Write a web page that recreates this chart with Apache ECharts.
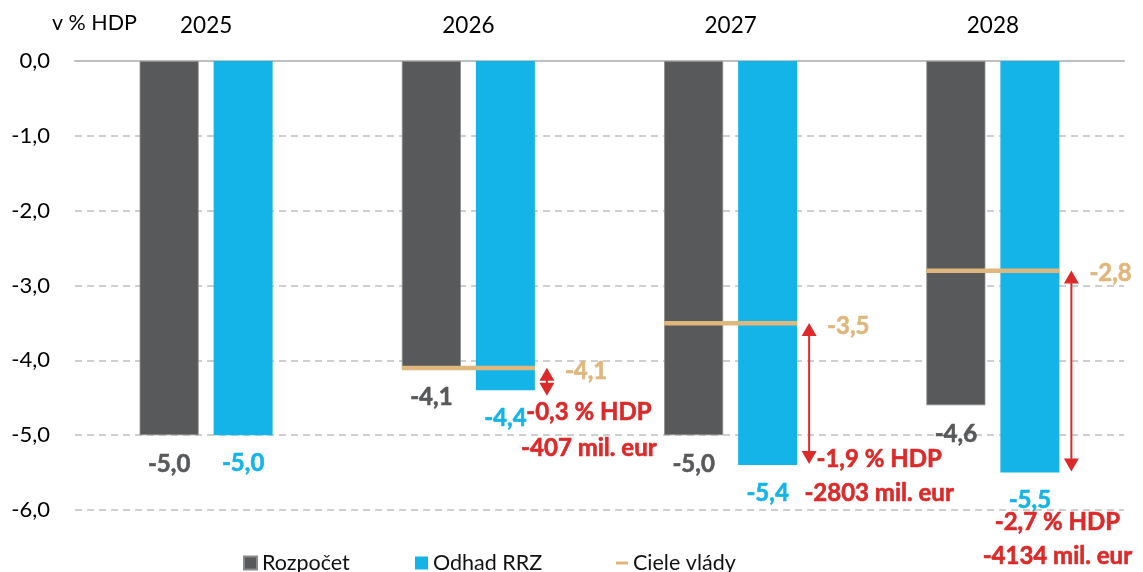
<!DOCTYPE html>
<html><head><meta charset="utf-8">
<script src="https://cdn.jsdelivr.net/npm/echarts@6/dist/echarts.min.js"></script>
<style>html,body{margin:0;padding:0;background:#fff}#c{width:1143px;height:572px}</style>
</head><body><div id="c"></div>
<script>
// ---- data ----
const years = ['2025', '2026', '2027', '2028'];
const rozpocet = [-5.0, -4.1, -5.0, -4.6];
const odhadRRZ = [-5.0, -4.4, -5.4, -5.5];
const cieleVlady = [null, -4.1, -3.5, -2.8];
const gapHDP = [null, -0.3, -1.9, -2.7];
const gapMilEur = [null, -407, -2803, -4134];
const yTicks = [0, -1, -2, -3, -4, -5, -6];

// ---- layout (positions of red annotation texts relative to arrow x / blue bar end) ----
const gapLabelOffsets = [null, {dx: 42, dy1: 22, dy2: 58}, {dx: 70, dy1: -6, dy2: 28}, {dx: -14, dy1: 50, dy2: 84}];

const GRAY = '#58595b', BLUE = '#15b4e8', TAN = '#dfb77c', RED = '#dc2a2a';
const FONT = 'Lato';
const BAR_W = 59, BAR_GAP = 15;
const HALF_GROUP = BAR_W + BAR_GAP / 2;
const fmt = v => v.toFixed(1).replace('.', ',');

const chart = echarts.init(document.getElementById('c'));

const goalData = [], arrowData = [];
cieleVlady.forEach((v, i) => {
  if (v !== null) {
    goalData.push([i, v]);
    arrowData.push([i, v, odhadRRZ[i]]);
  }
});

const boldLabel = color => ({fontSize: 24, fontWeight: 'bold', color: color, fontFamily: FONT,
  textBorderColor: color, textBorderWidth: 0.6});

chart.setOption({
  animation: false,
  textStyle: {fontFamily: FONT},
  grid: {left: 75, right: 19, top: 61, bottom: 62},
  graphic: [{type: 'text', left: 52, top: 12, style: {text: 'v % HDP', font: '21.5px ' + FONT, fill: '#000'}}],
  legend: [
    {left: 238, top: 547, itemWidth: 13, itemHeight: 13, textStyle: {fontSize: 21.5, color: '#111', fontFamily: FONT},
     data: [{name: 'Rozpočet', icon: 'rect'}]},
    {left: 410, top: 547, itemWidth: 13, itemHeight: 13, textStyle: {fontSize: 21.5, color: '#111', fontFamily: FONT},
     data: [{name: 'Odhad RRZ', icon: 'rect'}]},
    {left: 611, top: 547, itemWidth: 12, itemHeight: 13, textStyle: {fontSize: 21.5, color: '#111', fontFamily: FONT},
     data: [{name: 'Ciele vlády', icon: 'path://M0,5 L12,5 L12,8 L0,8 Z', itemStyle: {color: TAN}}]}
  ],
  xAxis: {
    type: 'category', data: years, position: 'top',
    axisLine: {show: true, lineStyle: {color: '#bfbfbf', width: 2}},
    axisTick: {show: false},
    axisLabel: {fontSize: 22.5, color: '#000', margin: 24, fontFamily: FONT}
  },
  yAxis: {
    type: 'value', min: -6, max: 0, interval: 1,
    axisLine: {show: false}, axisTick: {show: false},
    axisLabel: {fontSize: 22, color: '#000', margin: 25, fontFamily: FONT, formatter: v => yTicks.includes(v) ? fmt(v) : ''},
    splitLine: {show: true, lineStyle: {color: '#bfbfbf', type: [7, 5], width: 1.5}}
  },
  series: [
    {
      name: 'Rozpočet', type: 'bar', data: rozpocet, barWidth: BAR_W, barGap: (BAR_GAP / BAR_W * 100) + '%',
      itemStyle: {color: GRAY, borderColor: '#8a8a8a', borderWidth: 0.8},
      label: Object.assign({show: true, position: 'bottom', distance: 17, formatter: p => fmt(p.value)}, boldLabel(GRAY))
    },
    {
      name: 'Odhad RRZ', type: 'bar', data: odhadRRZ, barWidth: BAR_W,
      itemStyle: {color: BLUE},
      label: Object.assign({show: true, position: 'bottom', distance: 16, formatter: p => fmt(p.value)}, boldLabel(BLUE))
    },
    {
      name: 'Ciele vlády', type: 'custom', data: goalData, z: 5,
      itemStyle: {color: TAN},
      renderItem: (params, api) => {
        const i = api.value(0), v = api.value(1);
        const p = api.coord([i, v]);
        return {type: 'group', children: [
          {type: 'rect', shape: {x: p[0] - HALF_GROUP, y: p[1] - 2, width: HALF_GROUP * 2, height: 4.5}, style: {fill: TAN}},
          {type: 'text', x: p[0] + HALF_GROUP + 30, y: p[1] + 3,
           style: {text: fmt(v), fill: TAN, font: 'bold 24px ' + FONT, align: 'left', verticalAlign: 'middle',
                   stroke: TAN, lineWidth: 0.6}}
        ]};
      }
    },
    {
      name: 'gap', type: 'custom', data: arrowData, z: 6, silent: true,
      renderItem: (params, api) => {
        const i = api.value(0), g = api.value(1), o = api.value(2);
        const p1 = api.coord([i, g]), p2 = api.coord([i, o]);
        const x = p1[0] + HALF_GROUP + 12;
        const h = 13;
        const y1 = p1[1];
        const y2 = Math.max(p2[1] - 1, y1 + 2 * h + 2);
        const off = gapLabelOffsets[i];
        const txt = {fill: RED, font: 'bold 24px ' + FONT, align: 'center', verticalAlign: 'middle', stroke: RED, lineWidth: 0.6};
        return {type: 'group', children: [
          {type: 'line', shape: {x1: x, y1: y1 + h - 1, x2: x, y2: y2 - h + 1}, style: {stroke: RED, lineWidth: 2}},
          {type: 'polygon', shape: {points: [[x, y1], [x - 7.5, y1 + h], [x + 7.5, y1 + h]]}, style: {fill: RED}},
          {type: 'polygon', shape: {points: [[x, y2], [x - 7.5, y2 - h], [x + 7.5, y2 - h]]}, style: {fill: RED}},
          {type: 'text', x: x + off.dx, y: p2[1] + off.dy1,
           style: Object.assign({text: fmt(gapHDP[i]) + ' % HDP'}, txt)},
          {type: 'text', x: x + off.dx, y: p2[1] + off.dy2,
           style: Object.assign({text: gapMilEur[i] + ' mil. eur'}, txt)}
        ]};
      }
    }
  ]
});
</script></body></html>
